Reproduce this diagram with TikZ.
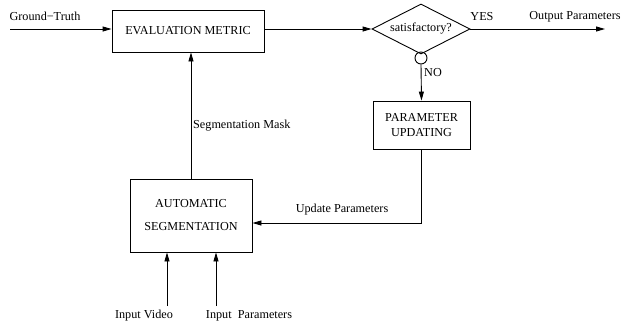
\documentclass[tikz,border=0pt]{standalone}
\usepackage{fontspec}
\setmainfont{Liberation Serif}
\usetikzlibrary{arrows.meta,shapes.geometric}

\begin{document}
\begin{tikzpicture}[x=1pt, y=-1pt,
    box/.style={rectangle, draw, line width=0.9pt, font=\fontsize{12.2}{15}\selectfont, align=center, inner sep=0pt},
    arr/.style={-{Triangle[length=9pt,width=5pt]}, line width=0.9pt},
    lbl/.style={font=\fontsize{12.2}{14}\selectfont, inner sep=0pt},
]
    \useasboundingbox (0,0) rectangle (627,327);
    % blocks
    \node[box, minimum width=152pt, minimum height=42pt] (em) at (188,31) {EVALUATION METRIC};
    \node[diamond, draw, line width=0.9pt, aspect=2, minimum width=98pt, minimum height=50pt, inner sep=0pt, font=\fontsize{12.2}{14}\selectfont] (sat) at (421,29) {\raisebox{-4pt}{satisfactory?}};
    \node[circle, draw, line width=0.9pt, minimum size=12pt, inner sep=0pt] (no) at (421,58) {};
    \node[box, minimum width=97pt, minimum height=48pt] (pu) at (421.5,125) {\raisebox{-4pt}{\parbox{90pt}{\centering PARAMETER\\UPDATING}}};
    \node[box, minimum width=122pt, minimum height=73pt] (as) at (191,215.5) {\raisebox{-3pt}{\parbox{110pt}{\centering AUTOMATIC\\[8pt]SEGMENTATION}}};
    \coordinate (gt) at (10,29);
    \coordinate (out) at (605,29);
    \coordinate (iv) at (167,306);
    \coordinate (ip) at (216,306);
    % connectors
    \draw[arr] (gt) -- ([yshift=2pt]em.west);
    \draw[arr] ([yshift=2pt]em.east) -- (sat.west);
    \draw[arr] (sat.east) -- (out);
    \draw[arr] (no.south) -- (pu.north);
    \draw[arr] (pu.south) |- ([yshift=-7.5pt]as.east);
    \draw[arr] (as.north) -- (as.north |- em.south);
    \draw[arr] (iv) -- (iv |- as.south);
    \draw[arr] (ip) -- (ip |- as.south);
    % labels
    \node[lbl] (gtl) at (45,16) {Ground−Truth};
    \node[lbl] (yes) at (482,17) {YES};
    \node[lbl] (outl) at (575,17) {Output Parameters};
    \node[lbl, anchor=west] (nol) at (424,73) {NO};
    \node[lbl] (upl) at (342,210) {Update Parameters};
    \node[lbl, anchor=west] (sml) at (193,126) {Segmentation Mask};
    \node[lbl] (ivl) at (144,316) {Input Video};
    \node[lbl] (ipl) at (249,316) {Input~ Parameters};
\end{tikzpicture}
\end{document}
